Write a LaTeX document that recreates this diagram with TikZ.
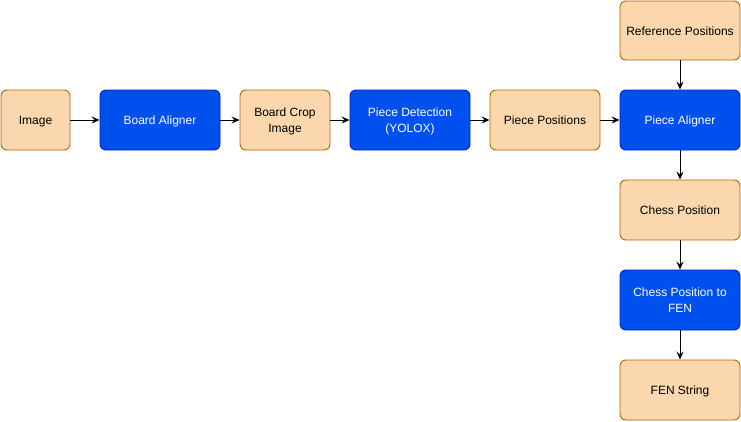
\documentclass[tikz,border=0pt]{standalone}
\usepackage{fontspec}
\setmainfont{Liberation Sans}
\usetikzlibrary{arrows.meta}
\definecolor{ofill}{HTML}{FAD7AC}
\definecolor{odraw}{HTML}{B46504}
\definecolor{bfill}{HTML}{0050EF}
\definecolor{bdraw}{HTML}{001DBC}
\tikzset{
  obox/.style={draw=odraw, fill=ofill, rounded corners=6pt, line width=0.9pt},
  bbox/.style={draw=bdraw, fill=bfill, rounded corners=6pt, line width=0.9pt},
  otxt/.style={align=center, font=\fontsize{12}{15.4}\selectfont, text=black, inner sep=0pt, yshift=-1.6pt},
  btxt/.style={align=center, font=\fontsize{12}{15.4}\selectfont, text=white, inner sep=0pt, yshift=-1.6pt},
  conn/.style={-{Stealth[length=8pt,width=7pt,inset=3pt]}, line width=0.9pt, black}
}
\newcommand{\boxat}[8]{% boxstyle, textstyle, name, x1, y1, x2, y2, text
  \node[#1, minimum width=#6pt-#4pt, minimum height=#7pt-#5pt, inner sep=0pt] (#3) at ({(#4+#6)/2},{(#5+#7)/2}) {};
  \node[#2] (#3-t) at (#3.center) {\strut #8\strut};}
\begin{document}
\begin{tikzpicture}[x=1pt,y=-1pt]
\useasboundingbox (0,0) rectangle (741,421);
\boxat{obox}{otxt}{img}{1}{90}{70}{150}{Image}
\boxat{bbox}{btxt}{ba}{100}{90}{220}{150}{Board Aligner}
\boxat{obox}{otxt}{bci}{240}{90}{330}{150}{Board Crop\\\strut Image}
\boxat{bbox}{btxt}{pd}{350}{90}{470}{150}{Piece Detection\\\strut (YOLOX)}
\boxat{obox}{otxt}{pp}{490}{90}{600}{150}{Piece Positions}
\boxat{bbox}{btxt}{pa}{620}{90}{740}{150}{Piece Aligner}
\boxat{obox}{otxt}{rp}{620}{1}{740}{60}{Reference Positions}
\boxat{obox}{otxt}{cp}{620}{180}{740}{240}{Chess Position}
\boxat{bbox}{btxt}{cpf}{620}{270}{740}{330}{Chess Position to\\\strut FEN}
\boxat{obox}{otxt}{fen}{620}{360}{740}{420}{FEN String}
\draw[conn] (img) -- (ba);
\draw[conn] (ba) -- (bci);
\draw[conn] (bci) -- (pd);
\draw[conn] (pd) -- (pp);
\draw[conn] (pp) -- (pa);
\draw[conn] (rp) -- (pa);
\draw[conn] (pa) -- (cp);
\draw[conn] (cp) -- (cpf);
\draw[conn] (cpf) -- (fen);
\end{tikzpicture}
\end{document}
